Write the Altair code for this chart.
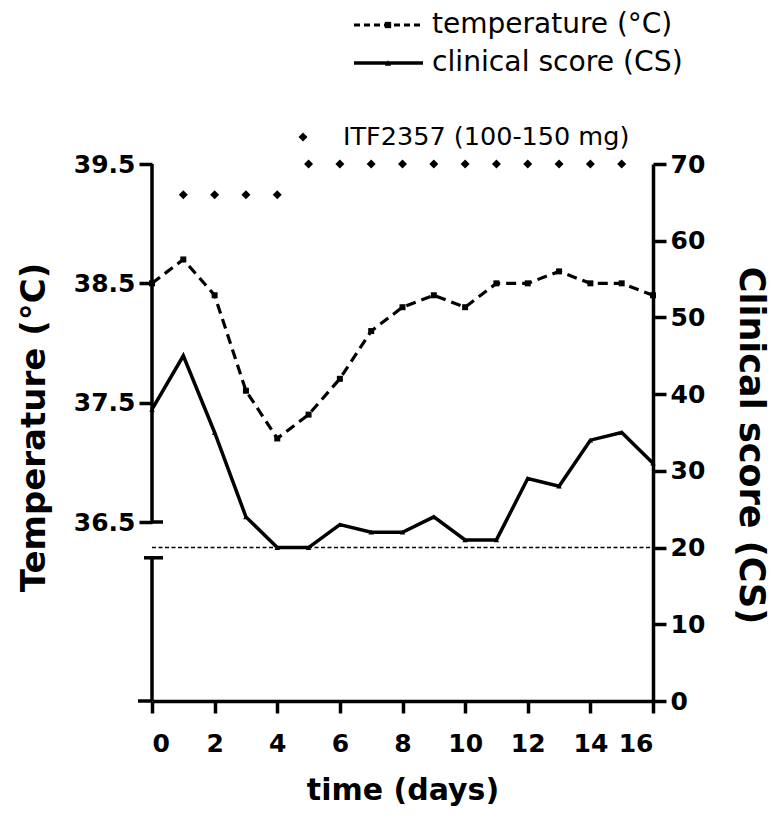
import altair as alt
import pandas as pd

# ---- data ----
days = list(range(17))
temperature = [38.5, 38.7, 38.4, 37.6, 37.2, 37.4, 37.7, 38.1, 38.3, 38.4,
               38.3, 38.5, 38.5, 38.6, 38.5, 38.5, 38.4]
clinical_score = [38, 45, 35, 24, 20, 20, 23, 22, 22, 24, 21, 21, 29, 28, 34, 35, 31]
drug_days = [1, 2, 3, 4, 5, 6, 7, 8, 9, 10, 11, 12, 13, 14, 15]
drug_level = [66, 66, 66, 66, 70, 70, 70, 70, 70, 70, 70, 70, 70, 70, 70]
threshold_cs = [20]
temp_ticks = [36.5, 37.5, 38.5, 39.5]
cs_ticks = [0, 10, 20, 30, 40, 50, 60, 70]
x_ticks = [0, 2, 4, 6, 8, 10, 12, 14, 16]
temp_axis_segments_top = [39.5, 36.2]
temp_axis_segments_bottom = [36.5, 35.0]
legend_labels = ["temperature (°C)", "clinical score (CS)"]
drug_label = "ITF2357 (100-150 mg)"

W, H = 501, 537
FONT = "DejaVu Sans"

df = pd.DataFrame({"day": days, "temp": temperature, "cs": clinical_score})
drug_df = pd.DataFrame({"day": drug_days, "cs": drug_level})
thr_df = pd.DataFrame({"cs": threshold_cs})
seg_df = pd.DataFrame({"temp": temp_axis_segments_top, "temp2": temp_axis_segments_bottom})
one = pd.DataFrame({"a": [0]})

x_scale = alt.Scale(domain=[0, 16], nice=False)
t_scale = alt.Scale(domain=[35, 39.5], nice=False, zero=False)
c_scale = alt.Scale(domain=[0, 70], nice=False)

x_axis = alt.Axis(values=x_ticks, title="time (days)", tickSize=12, labelPadding=18,
                  titleX=W / 2, titleY=89, titleBaseline="middle", titleAlign="center",
                  titleFontSize=30)
t_axis = alt.Axis(values=temp_ticks, format=".1f", orient="left", domain=False,
                  tickSize=13, labelPadding=4, title="Temperature (°C)",
                  titleAngle=-90, titleX=-118, titleY=263, titleBaseline="middle",
                  titleAlign="center", titleFontSize=34)
c_axis = alt.Axis(values=cs_ticks, orient="right", tickSize=13, labelPadding=4,
                  title="Clinical score (CS)", titleAngle=90, titleX=97, titleY=281,
                  titleBaseline="middle", titleAlign="center", titleFontSize=35)

x_enc = alt.X("day:Q", scale=x_scale, axis=x_axis)
t_enc = alt.Y("temp:Q", scale=t_scale, axis=t_axis)
c_enc = alt.Y("cs:Q", scale=c_scale, axis=c_axis)

# ---- temperature layer (left axis) ----
base_t = alt.Chart(df).encode(x=x_enc, y=t_enc)
t_line = base_t.mark_line(color="black", strokeWidth=3.2, strokeDash=[10, 6])
t_pts = base_t.mark_point(shape="square", filled=True, size=36, color="black", opacity=1)

t_axis_line = alt.Chart(seg_df).mark_rule(color="black", strokeWidth=3.5).encode(
    x=alt.value(0), y=t_enc, y2="temp2:Q")
cap1 = alt.Chart(one).mark_rule(color="black", strokeWidth=3.5).encode(
    x=alt.value(0), x2=alt.value(11), y=alt.YDatum(36.5, scale=t_scale, axis=t_axis))
cap2 = alt.Chart(one).mark_rule(color="black", strokeWidth=3.5).encode(
    x=alt.value(-8), x2=alt.value(11), y=alt.YDatum(36.2, scale=t_scale, axis=t_axis))
x_ext = alt.Chart(one).mark_rule(color="black", strokeWidth=3.5).encode(
    x=alt.value(-14), x2=alt.value(0), y=alt.value(H))

temp_layer = alt.layer(t_line, t_pts, t_axis_line, cap1, cap2, x_ext)

# ---- clinical score layer (right axis) ----
base_c = alt.Chart(df).encode(x=x_enc, y=c_enc)
c_line = base_c.mark_line(color="black", strokeWidth=3.5)
c_pts = base_c.mark_point(shape="triangle-up", filled=True, size=30, color="black", opacity=1)

thr = alt.Chart(thr_df).mark_rule(color="black", strokeWidth=1.5, strokeDash=[4, 2.5]).encode(
    y=c_enc, x=alt.value(0), x2=alt.value(W))

drug = alt.Chart(drug_df).mark_point(shape="diamond", filled=True, size=80,
                                     color="black", opacity=1).encode(x=x_enc, y=c_enc)

cs_layer = alt.layer(thr, c_line, c_pts, drug)

# ---- manual legend ----
leg_t_line = alt.Chart(one).mark_rule(color="black", strokeWidth=3, strokeDash=[6, 4]).encode(
    x=alt.value(202), x2=alt.value(271), y=alt.value(-139))
leg_t_pt = alt.Chart(one).mark_point(shape="square", filled=True, size=40, color="black", opacity=1).encode(
    x=alt.value(236), y=alt.value(-139))
leg_t_txt = alt.Chart(one).mark_text(text=legend_labels[0], font=FONT, fontSize=28,
                                     align="left", baseline="middle", color="black").encode(
    x=alt.value(280), y=alt.value(-139))
leg_c_line = alt.Chart(one).mark_rule(color="black", strokeWidth=3.5).encode(
    x=alt.value(202), x2=alt.value(271), y=alt.value(-101))
leg_c_pt = alt.Chart(one).mark_point(shape="triangle-up", filled=True, size=40, color="black", opacity=1).encode(
    x=alt.value(236), y=alt.value(-101))
leg_c_txt = alt.Chart(one).mark_text(text=legend_labels[1], font=FONT, fontSize=28.2,
                                     align="left", baseline="middle", color="black").encode(
    x=alt.value(280), y=alt.value(-101))
leg_d_pt = alt.Chart(one).mark_point(shape="diamond", filled=True, size=80, color="black", opacity=1).encode(
    x=alt.value(151), y=alt.value(-27))
leg_d_txt = alt.Chart(one).mark_text(text=drug_label, font=FONT, fontSize=25.5,
                                     align="left", baseline="middle", color="black").encode(
    x=alt.value(191), y=alt.value(-27))

legend_layer = alt.layer(leg_t_line, leg_t_pt, leg_t_txt, leg_c_line, leg_c_pt,
                         leg_c_txt, leg_d_pt, leg_d_txt)

chart = alt.layer(temp_layer, cs_layer, legend_layer).resolve_scale(
    y="independent"
).properties(
    width=W, height=H,
    autosize=alt.AutoSizeParams(type="none"),
    padding={"left": 144, "top": 156, "right": 118, "bottom": 110},
).configure_view(stroke=None).configure_axis(
    grid=False,
    domainColor="black", domainWidth=3.5,
    tickColor="black", tickWidth=3.5,
    labelFont=FONT, labelFontWeight="bold", labelFontSize=25, labelColor="black",
    titleFont=FONT, titleFontWeight="bold", titleColor="black",
)

chart.save("out.html", embed_options={"renderer": "svg", "actions": False})
